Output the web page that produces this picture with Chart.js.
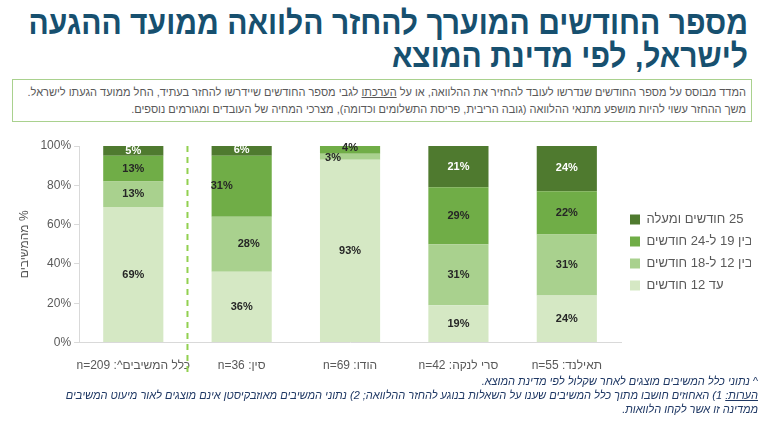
<!DOCTYPE html>
<html lang="he" dir="rtl">
<head>
<meta charset="utf-8">
<script src="https://cdn.jsdelivr.net/npm/chart.js@4.4.1/dist/chart.umd.min.js"></script>
<style>
  html, body { margin: 0; padding: 0; background: #fff; }
  body { width: 768px; height: 422px; position: relative; overflow: hidden; font-family: "Liberation Sans", "DejaVu Sans", sans-serif; }
  #title { position: absolute; right: 20px; top: 6px; width: 900px; text-align: right; direction: rtl; white-space: nowrap;
    font-family: "Liberation Sans", sans-serif; font-weight: bold; font-size: 33px; line-height: 33px; color: #17506f;
    transform: scaleX(0.91); transform-origin: right top; }
  #note { position: absolute; left: 12px; top: 79px; width: 740px; height: 43px; border: 1px solid #a9d18e; box-sizing: border-box;
    direction: rtl; text-align: right; font-size: 11px; line-height: 17px; color: #595959; padding: 4px 5px 0 5px; }
  #wrap { position: absolute; left: 0; top: 130px; width: 751px; height: 257px; }
  #foot { position: absolute; left: 20px; top: 374px; width: 738px; direction: rtl; text-align: right;
    font-size: 11px; line-height: 14px; color: #1f3864; font-style: italic; }
  u { text-underline-offset: 1px; }
</style>
</head>
<body>
<div id="title">מספר החודשים המוערך להחזר הלוואה ממועד ההגעה<br>לישראל, לפי מדינת המוצא</div>
<div id="note">המדד מבוסס על מספר החודשים שנדרשו לעובד להחזיר את ההלוואה, או על <u>הערכתו</u> לגבי מספר החודשים שיידרשו להחזר בעתיד, החל ממועד הגעתו לישראל.<br>משך ההחזר עשוי להיות מושפע מתנאי ההלוואה (גובה הריבית, פריסת התשלומים וכדומה), מצרכי המחיה של העובדים ומגורמים נוספים.</div>
<div id="wrap"><canvas id="chart"></canvas></div>
<div id="foot">^ נתוני כלל המשיבים מוצגים לאחר שקלול לפי מדינת המוצא.<br><u>הערות:</u> 1) האחוזים חושבו מתוך כלל המשיבים שענו על השאלות בנוגע להחזר ההלוואה; 2) נתוני המשיבים מאוזבקיסטן אינם מוצגים לאור מיעוט המשיבים<br>ממדינה זו אשר לקחו הלוואות.</div>
<script>
// categories (left to right)
const categories = ["כלל המשיבים^: n=209", "סין: n=36", "הודו: n=69", "סרי לנקה: n=42", "תאילנד: n=55"];
const seriesNames = ["עד 12 חודשים", "בין 12 ל-18 חודשים", "בין 19 ל-24 חודשים", "25 חודשים ומעלה"];

// % of respondents per group
const upTo12 = [69, 36, 93, 19, 24];
const from12to18 = [13, 28, 3, 31, 31];
const from19to24 = [13, 31, 4, 29, 22];
const over25 = [5, 6, 0, 21, 24];

const yTicks = [0, 20, 40, 60, 80, 100];

const colors = ["#d5e8c4", "#a9d18e", "#70ad47", "#4f7a2f"];
const labelColors = ["#262626", "#262626", "#262626", "#ffffff"];

// small label shifts where Excel pushed labels aside (dataset:index -> dx, dy)
const labelNudge = { "2:1": [-20, 0], "1:1": [7, 0], "1:2": [-17, 1], "2:2": [0, -2] };

const seriesValues = [upTo12, from12to18, from19to24, over25];

const FONT = "'Liberation Sans', 'DejaVu Sans', sans-serif";

// dashed divider between the overall bar and the countries
const dividerPlugin = {
    id: "divider",
    afterDatasetsDraw(chart) {
        const x = chart.scales.x.getPixelForValue(0.5);
        const ctx = chart.ctx;
        ctx.save();
        ctx.strokeStyle = "#92d050";
        ctx.lineWidth = 2;
        ctx.setLineDash([6, 5]);
        ctx.beginPath();
        ctx.moveTo(x, chart.chartArea.top);
        ctx.lineTo(x, chart.chartArea.bottom + 32);
        ctx.stroke();
        ctx.restore();
    }
};

// value labels inside the segments
const valueLabels = {
    id: "valueLabels",
    afterDatasetsDraw(chart) {
        const ctx = chart.ctx;
        ctx.save();
        ctx.font = "bold 11px " + FONT;
        ctx.textAlign = "center";
        ctx.textBaseline = "middle";
        chart.data.datasets.forEach((ds, di) => {
            chart.getDatasetMeta(di).data.forEach((bar, i) => {
                const v = ds.data[i];
                if (!v) return;
                const nudge = labelNudge[di + ":" + i] || [0, 0];
                const y = (bar.y + bar.base) / 2;
                ctx.fillStyle = labelColors[di];
                ctx.fillText(v + "%", bar.x + nudge[0], y + nudge[1]);
            });
        });
        ctx.restore();
    }
};

// keep the legend column a fixed width so the plot reaches as far as in the original,
// and lift it a little to sit where the original has it
const legendWidth = {
    id: "legendWidth",
    afterInit(chart) {
        const lg = chart.legend;
        const fit = lg.fit;
        lg.fit = function () {
            fit.call(this);
            if (!this.isHorizontal()) this.width = 130;
        };
    },
    afterLayout(chart) {
        chart.legend.top -= 11;
        chart.legend.bottom -= 11;
    }
};

new Chart(document.getElementById("chart"), {
    type: "bar",
    data: {
        labels: categories,
        datasets: seriesValues.map((vals, i) => ({
            label: seriesNames[i],
            data: vals,
            backgroundColor: colors[i],
            barPercentage: 0.555,
            categoryPercentage: 1
        }))
    },
    options: {
        responsive: true,
        maintainAspectRatio: false,
        animation: false,
        layout: { padding: { top: 16, bottom: 6, left: 11, right: 0 } },
        plugins: {
            legend: {
                position: "right",
                align: "center",
                reverse: true,
                rtl: false,
                textDirection: "rtl",
                labels: {
                    boxWidth: 10,
                    boxHeight: 10,
                    padding: 9,
                    color: "#595959",
                    font: { family: FONT, size: 13 }
                }
            },
            tooltip: { enabled: false }
        },
        scales: {
            x: {
                stacked: true,
                grid: { display: false },
                border: { color: "#d9d9d9" },
                ticks: { color: "#595959", font: { family: FONT, size: 12 }, padding: 8, maxRotation: 0, autoSkip: false }
            },
            y: {
                stacked: true,
                min: 0,
                max: 100,
                afterBuildTicks(axis) { axis.ticks = yTicks.map(v => ({ value: v })); },
                grid: { drawOnChartArea: false, drawTicks: true, tickLength: 5, color: "#d9d9d9" },
                border: { color: "#d9d9d9" },
                ticks: { color: "#595959", font: { family: FONT, size: 12 }, padding: 3, callback: v => v + "%" },
                title: { display: true, text: "% מהמשיבים", color: "#595959", font: { family: FONT, size: 12 }, padding: 6 }
            }
        }
    },
    plugins: [dividerPlugin, valueLabels, legendWidth]
});
</script>
</body>
</html>
